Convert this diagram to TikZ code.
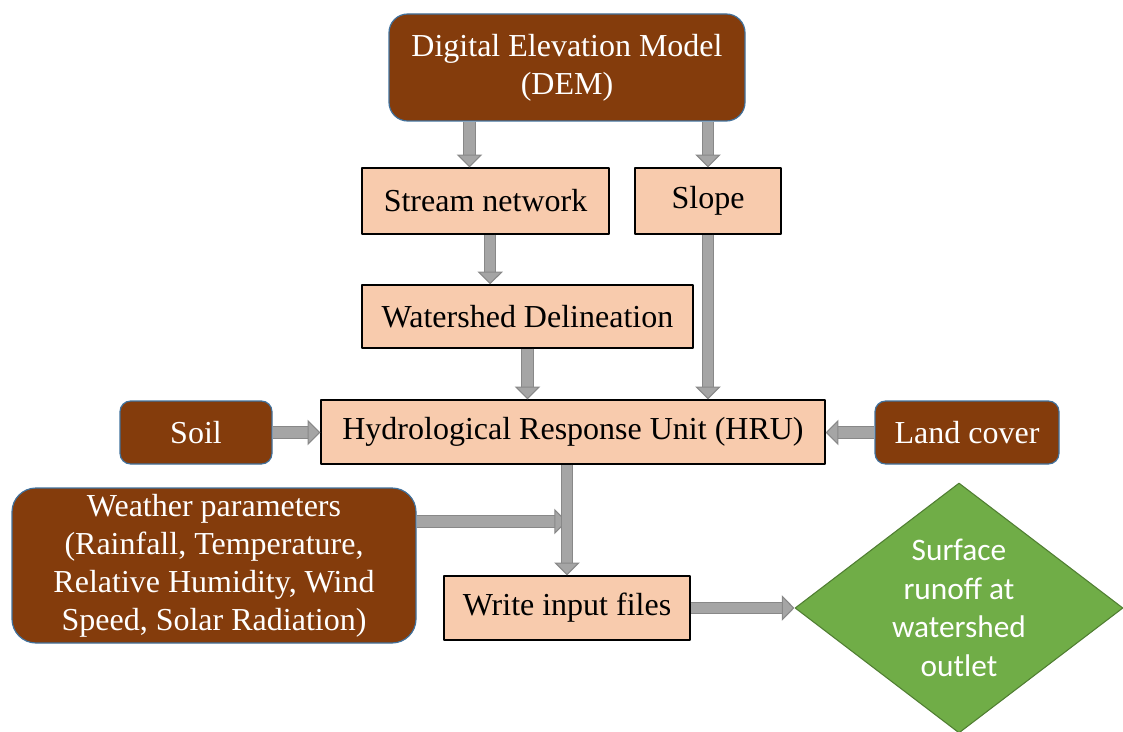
\documentclass[tikz,border=0pt]{standalone}
\usepackage{fontspec}
\setmainfont{Liberation Serif}
\newfontfamily\calibri{Carlito}
\usetikzlibrary{shapes.geometric,arrows.meta}
\definecolor{soilbrown}{HTML}{843C0C}
\definecolor{edgeblue}{HTML}{41719C}
\definecolor{peach}{HTML}{F8CBAD}
\definecolor{leafgreen}{HTML}{70AD47}
\definecolor{leafedge}{HTML}{507E32}
\definecolor{flowfill}{HTML}{A5A5A5}
\definecolor{flowedge}{HTML}{888888}
\begin{document}
\begin{tikzpicture}[x=0.75pt,y=-0.75pt,line join=round]
	\tikzset{every node/.style={font=\fontsize{24}{28.5}\selectfont, inner sep=0pt, align=center},
		datum/.style={draw=edgeblue, line width=0.9pt, fill=soilbrown, text=white, rounded corners=14pt},
		task/.style={draw=black, line width=1.1pt, fill=peach},
		result/.style={diamond, shape aspect=1.31, draw=leafedge, line width=0.8pt, fill=leafgreen, text=white, font=\calibri\fontsize{23.5}{29}\selectfont},
		flow/.style={draw=flowfill, line width=7.6pt, -{Triangle[length=9.5pt,width=19pt,fill=flowfill,color=flowedge,line width=0.8pt]},
			preaction={draw=flowedge, line width=9.2pt, arrows=-, shorten >=8.5pt}}}
	\useasboundingbox (0,0) rectangle (1123,731);
	\node[datum, minimum width=267pt, minimum height=80.25pt] (dem) at (567,67.5) {Digital Elevation Model\\(DEM)};
	\node[task, minimum width=185.25pt, minimum height=49.5pt] (stream) at (485.5,201) {Stream network};
	\node[task, minimum width=109.5pt, minimum height=49.5pt] (slope) at (708,201) {Slope};
	\node[task, minimum width=248.25pt, minimum height=47.25pt] (shed) at (527.5,316.5) {Watershed Delineation};
	\node[task, minimum width=378pt, minimum height=48pt] (hru) at (573,432) {Hydrological Response Unit (HRU)};
	\node[datum, minimum width=114pt, minimum height=47.25pt, rounded corners=8pt] (soil) at (196,432.5) {Soil};
	\node[datum, minimum width=138pt, minimum height=47.25pt, rounded corners=8pt] (land) at (967,432.5) {Land cover};
	\node[datum, minimum width=303pt, minimum height=116.25pt, rounded corners=18pt] (weather) at (214,565.5) {Weather parameters\\(Rainfall, Temperature,\\Relative Humidity, Wind\\Speed, Solar Radiation)};
	\node[task, minimum width=184.5pt, minimum height=48pt] (input) at (567,608) {Write input files};
	\node[result, minimum width=246pt, minimum height=187.5pt] (runoff) at (959,608) {Surface\\runoff at\\watershed\\outlet};
	% arrows
	\coordinate (s1) at ([xshift=-12pt]stream.north);
	\coordinate (s2) at ([xshift=3.5pt]stream.south);
	\coordinate (w1) at ([yshift=33pt]weather.east);
	\coordinate (join) at (w1 -| input.north);
	\draw[flow] (s1 |- dem.south) -- (s1);
	\draw[flow] (slope.north |- dem.south) -- (slope.north);
	\draw[flow] (s2) -- (s2 |- shed.north);
	\draw[flow] (shed.south) -- (shed.south |- hru.north);
	\draw[flow] (slope.south) -- (slope.south |- hru.north);
	\draw[flow] (soil.east) -- (soil.east -| hru.west);
	\draw[flow] (land.west) -- (land.west -| hru.east);
	\draw[flow] (w1) -- (join);
	\draw[flow] (input.north |- hru.south) -- (input.north);
	\draw[flow] (input.east) -- (runoff.west);
\end{tikzpicture}
\end{document}
